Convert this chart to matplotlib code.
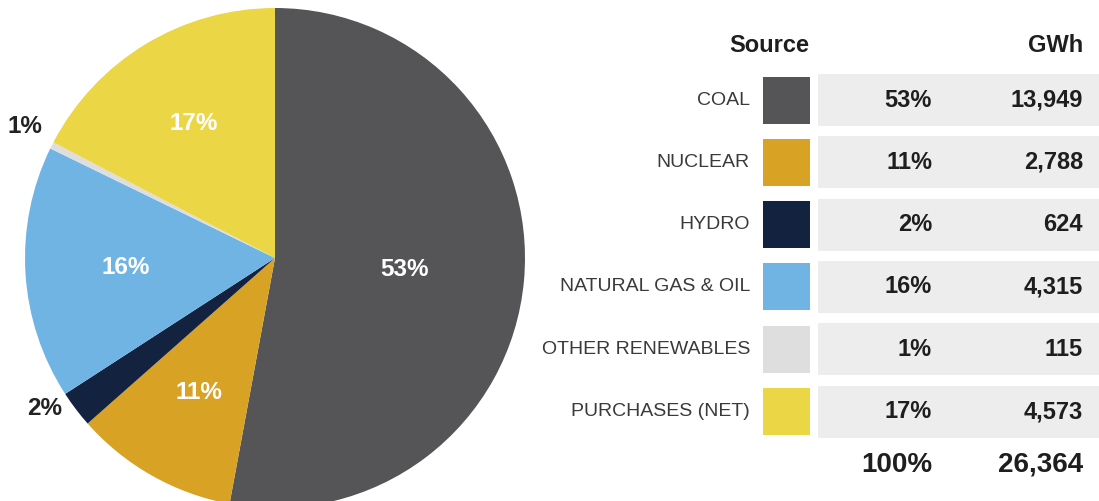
import numpy as np
import matplotlib.pyplot as plt

plt.rcParams['font.family'] = ['Liberation Sans', 'DejaVu Sans']

# data
sources = ["COAL", "NUCLEAR", "HYDRO", "NATURAL GAS & OIL",
           "OTHER RENEWABLES", "PURCHASES (NET)"]
gwh = [13949, 2788, 624, 4315, 115, 4573]
pct_labels = ["53%", "11%", "2%", "16%", "1%", "17%"]
gwh_labels = ["13,949", "2,788", "624", "4,315", "115", "4,573"]
total_pct = "100%"
total_gwh = "26,364"
colors = ["#555557", "#d8a224", "#13223e", "#70b4e4", "#dedede", "#ebd745"]

W, H = 1099, 501
fig = plt.figure(figsize=(W / 100, H / 100), dpi=100)
ax = fig.add_axes([0, 0, 1, 1])

# pie, in pixel coordinates (y measured up from bottom)
cx, cy, R = 275, H - 258, 250
ax.pie(gwh, colors=colors, startangle=90, counterclock=False,
       center=(cx, cy), radius=R, wedgeprops=dict(linewidth=0))

frac = np.array(gwh) / sum(gwh)
mids = (np.cumsum(frac) - frac / 2) * 2 * np.pi
# label distance (fraction of radius) and small angle nudge (deg)
label_r = [0.52, 0.62, 1.10, 0.60, 1.13, 0.63]
label_shift = [0, 0, 4, 0, 1, 0]
for i, a in enumerate(mids):
    a = a + np.radians(label_shift[i])
    dx, dy = np.sin(a), np.cos(a)
    r = label_r[i] * R
    col = "white" if label_r[i] < 1 else "#222222"
    ax.text(cx + r * dx, cy + r * dy, pct_labels[i], color=col,
            fontsize=17.5, fontweight="bold", ha="center", va="center")

# table on the right
row_y0, row_step = 100, 62.3
ax.text(809, H - 45, "Source", fontsize=17, fontweight="bold",
        ha="right", va="center", color="#1e1e1e")
ax.text(1083, H - 45, "GWh", fontsize=17, fontweight="bold",
        ha="right", va="center", color="#1e1e1e")
for i, name in enumerate(sources):
    y = H - (row_y0 + i * row_step)
    ax.add_patch(plt.Rectangle((818, y - 26), W - 818, 52,
                               color="#ededed", lw=0))
    ax.add_patch(plt.Rectangle((763, y - 23.5), 47, 47,
                               color=colors[i], lw=0))
    ax.text(750, y, name, fontsize=14, ha="right", va="center",
            color="#3a3a3a")
    ax.text(932, y, pct_labels[i], fontsize=17, fontweight="bold",
            ha="right", va="center", color="#1e1e1e")
    ax.text(1083, y, gwh_labels[i], fontsize=17, fontweight="bold",
            ha="right", va="center", color="#1e1e1e")

y = H - 465
ax.text(932, y, total_pct, fontsize=20, fontweight="bold",
        ha="right", va="center", color="#1e1e1e")
ax.text(1083, y, total_gwh, fontsize=20, fontweight="bold",
        ha="right", va="center", color="#1e1e1e")

ax.set_xlim(0, W)
ax.set_ylim(0, H)
ax.set_aspect("auto")
ax.axis("off")

fig.savefig("out.png", dpi=100)
